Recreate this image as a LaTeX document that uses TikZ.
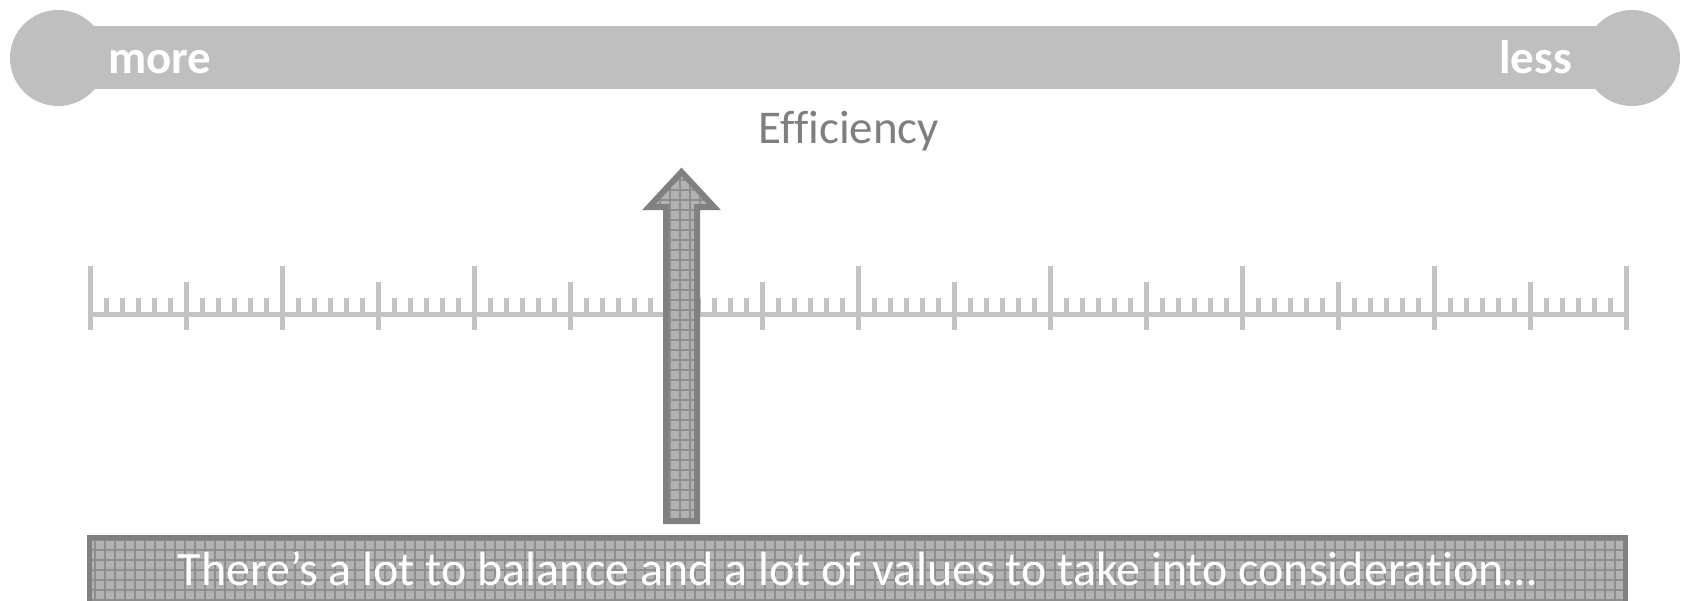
\documentclass[tikz,border=0pt]{standalone}
\usepackage{fontspec}
\setmainfont{Carlito}[Ligatures=NoCommon]
\definecolor{bargray}{HTML}{BFBFBF}
\definecolor{rulergray}{HTML}{C3C3C3}
\definecolor{labelgray}{HTML}{7F7F7F}
\definecolor{edgegray}{HTML}{808080}
\definecolor{patbase}{HTML}{B2B2B2}
\definecolor{patline}{HTML}{8E8E8E}
\tikzset{
  endlabel/.style={font=\fontsize{47}{52}\selectfont\bfseries, text=white, inner sep=0pt},
  axislabel/.style={font=\fontsize{47}{52}\selectfont, text=labelgray, inner sep=0pt},
  boxtext/.style={font=\fontsize{48}{54}\selectfont, text=white, inner sep=0pt},
  rulerline/.style={draw=rulergray, line width=5pt},
  edgeline/.style={draw=edgegray, line width=6pt, line join=miter},
  gridline/.style={draw=patline, line width=1.2pt}
}
\begin{document}
\begin{tikzpicture}[x=1pt,y=-1pt]
\useasboundingbox (0,0) rectangle (1690,600);
% top bar
\fill[bargray] (58,58) circle (48);
\fill[bargray] (1632,58) circle (48);
\fill[bargray] (58,26) rectangle (1632,89);
\node[endlabel, anchor=base west] (more) at (108,73) {more};
\node[endlabel, anchor=base east] (less) at (1572,73) {less};
\node[axislabel, anchor=base] (eff) at (849,143) {Efficiency};
% ruler
\draw[rulerline] (87.5,314) -- (1628.5,314);
\foreach \i in {0,...,16}{
  \pgfmathsetmacro{\xx}{90+96*\i}
  \ifodd\i
    \draw[rulerline] (\xx,282) -- (\xx,330);
  \else
    \draw[rulerline] (\xx,266) -- (\xx,330);
  \fi
}
\foreach \i in {0,...,15}{
  \foreach \j in {1,...,5}{
    \pgfmathsetmacro{\xx}{90+96*\i+16*\j}
    \draw[rulerline] (\xx,298) -- (\xx,314);
  }
}
% arrow
\coordinate (tip) at (681.5,172);
\begin{scope}
  \clip (681.5,172) -- (714,207) -- (697,207) -- (697,521) -- (666,521) -- (666,207) -- (649,207) -- cycle;
  \fill[patbase] (640,160) rectangle (720,530);
  \foreach \k in {0,...,8} { \draw[gridline] (640+10*\k,160) -- (640+10*\k,530); }
  \foreach \k in {0,...,37} { \draw[gridline] (640,160+10*\k) -- (720,160+10*\k); }
\end{scope}
\draw[edgeline] (681.5,172) -- (714,207) -- (697,207) -- (697,521) -- (666,521) -- (666,207) -- (649,207) -- cycle;
% bottom box
\begin{scope}
  \clip (89.5,537.5) rectangle (1625.5,620);
  \fill[patbase] (85,530) rectangle (1630,620);
  \foreach \k in {0,...,155} { \draw[gridline] (85+10*\k,530) -- (85+10*\k,620); }
  \foreach \k in {0,...,8} { \draw[gridline] (85,530+10*\k) -- (1630,530+10*\k); }
\end{scope}
\draw[draw=edgegray, line width=5pt] (89.5,620) -- (89.5,537.5) -- (1625.5,537.5) -- (1625.5,620);
\node[boxtext, anchor=base] (msg) at (857.5,585) {There’s a lot to balance and a lot of values to take into consideration…};
\end{tikzpicture}
\end{document}
